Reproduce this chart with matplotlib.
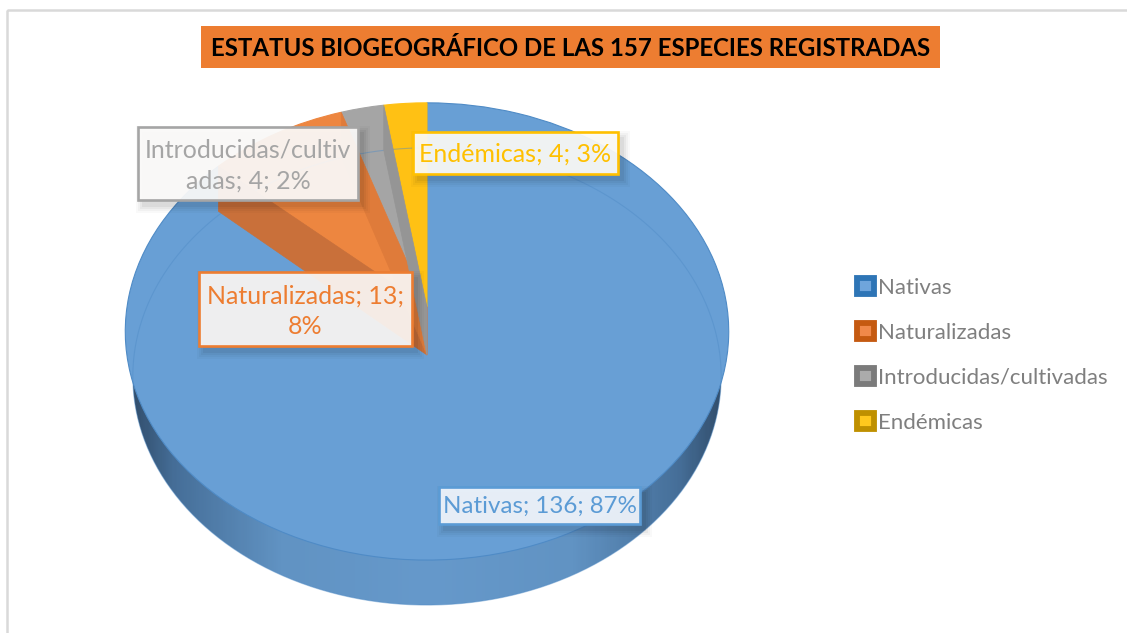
import matplotlib
matplotlib.use('Agg')
import matplotlib.pyplot as plt
import numpy as np
from matplotlib.colors import LinearSegmentedColormap
from matplotlib.patches import Patch, Rectangle
from matplotlib.path import Path
from matplotlib.transforms import Transform

plt.rcParams['font.family'] = ['Lato', 'DejaVu Sans']

# datos
title = 'ESTATUS BIOGEOGRÁFICO DE LAS 157 ESPECIES REGISTRADAS'
categories = ['Nativas', 'Naturalizadas', 'Introducidas/cultivadas', 'Endémicas']
species = [136, 13, 4, 4]
label_texts = ['Nativas; 136; 87%', 'Naturalizadas; 13;\n8%',
               'Introducidas/cultiv\nadas; 4; 2%', 'Endémicas; 4; 3%']

face_colors = ['#689FD5', '#ED8640', '#A5A5A5', '#FFC114']
edge_colors = ['#2E75B6', '#C55A11', '#7B7B7B', '#BF9000']
inner_colors = ['#6FA5DC', '#F0894A', '#ABABAB', '#FFC81E']
label_colors = ['#5B9BD5', '#ED7D31', '#A5A5A5', '#FFC000']
wall_colors = ['#C9703A', '#DF7B3A', '#959595']

# geometria del pastel en pixeles
CX, CY = 427, 307
A, B, K = 300, 226, 0.107
DEPTH = 45


def tilt(xy):
    xy = np.asarray(xy, dtype=float)
    w = 1 + K * xy[..., 1]
    return np.stack([CX + A * xy[..., 0] / w, CY - B * xy[..., 1] / w], axis=-1)


class Tilt(Transform):
    input_dims = 2
    output_dims = 2

    def transform_non_affine(self, values):
        return tilt(values)


def draw_box(ax, box, text, color, fill, size=18, dy=0):
    x0, y0, x1, y1 = box
    for grow, alpha in [(7, 0.025), (5, 0.03), (3, 0.04), (1, 0.05)]:
        ax.add_patch(Rectangle((x0 + 5 - grow, y0 + 6 - grow), x1 - x0 + 2 * grow, y1 - y0 + 2 * grow,
                               fc='black', ec='none', alpha=alpha, zorder=6))
    ax.add_patch(Rectangle((x0, y0), x1 - x0, y1 - y0, fc=fill, ec='none', alpha=0.93, zorder=7))
    ax.add_patch(Rectangle((x0, y0), x1 - x0, y1 - y0, fc='none', ec=color, lw=1.9, zorder=8))
    ax.text((x0 + x1) / 2, (y0 + y1) / 2 + dy, text, color=color, fontsize=size, ha='center', va='center',
            linespacing=1.4, zorder=9)


def main():
    fig = plt.figure(figsize=(11.27, 6.33), dpi=100)
    ax = fig.add_axes([0, 0, 1, 1])

    # borde del grafico
    ax.add_patch(Rectangle((7, 10), 1200, 700, fc='none', ec='#D9D9D9', lw=1.8, zorder=1))

    # pared exterior con sombreado horizontal
    cmap = LinearSegmentedColormap.from_list('rim', [(0, '#33506F'), (0.07, '#466F99'), (0.25, '#6193C3'),
                                                     (0.5, '#6699CB'), (0.75, '#6193C3'),
                                                     (0.93, '#466F99'), (1, '#33506F')])
    grad = np.linspace(0, 1, 300).reshape(1, -1)
    im = ax.imshow(grad, extent=(133, 721, 610, 300), aspect='auto', cmap=cmap, zorder=2)
    theta = np.linspace(0, 2 * np.pi, 400)
    rim = tilt(np.column_stack([np.cos(theta), np.sin(theta)])) + [0, DEPTH]
    rim[:, 0] = CX + (rim[:, 0] - CX) * 0.975
    im.set_clip_path(Path(rim), transform=ax.transData)

    # cara superior
    wedges, _ = ax.pie(species, startangle=90, counterclock=False, colors=face_colors,
                       wedgeprops={'linewidth': 0.8, 'edgecolor': '#4F8BC6'})
    for wedge, color in zip(wedges, face_colors):
        wedge.set_transform(Tilt() + ax.transData)
        wedge.set_clip_on(False)
        wedge.set_zorder(3)
        if color != face_colors[0]:
            wedge.set_edgecolor(color)

    # base vista a traves de la cara
    ax.plot(rim[:, 0], rim[:, 1], color='#4F8BC6', lw=0.8, alpha=0.45, zorder=3.5)

    # paredes interiores entre las porciones
    bounds = 90 - 360 * np.cumsum(species[:-1]) / np.sum(species)
    for ang, color in zip(bounds, wall_colors):
        outer = tilt([np.cos(np.radians(ang)), np.sin(np.radians(ang))])
        apex = tilt([0.0, 0.0])
        poly = np.array([outer, apex, apex + [0, DEPTH + 3], outer + [0, DEPTH]])
        ax.fill(poly[:, 0], poly[:, 1], fc=color, ec=color, lw=0.5, zorder=4)

    # titulo
    ax.add_patch(Rectangle((201, 26), 739, 42, fc='#ED7D31', ec='none', zorder=5))
    ax.text(571, 48, title, color='black', fontsize=17.3, fontweight='bold', ha='center', va='center', zorder=6)

    # etiquetas
    draw_box(ax, (439, 487, 640, 524), label_texts[0], label_colors[0], '#F2F6FC', size=17.4, dy=1)
    draw_box(ax, (199, 272, 412, 346), label_texts[1], label_colors[1], '#FBF7F4', dy=2)
    draw_box(ax, (138, 127, 358, 200), label_texts[2], label_colors[2], '#FCFBFA', dy=2)
    draw_box(ax, (413, 132, 618, 174), label_texts[3], label_colors[3], '#FCFBF7', dy=1)

    # leyenda
    handles = [Patch(fc=fc, ec=ec, lw=4.2, label=name)
               for fc, ec, name in zip(inner_colors, edge_colors, categories)]
    leg = ax.legend(handles=handles, loc='upper left', bbox_to_anchor=(857 / 1127, 1 - 278 / 633),
                    frameon=False, fontsize=16, handlelength=0.75, handleheight=0.75,
                    handletextpad=0.2, labelspacing=1.125, borderpad=0, borderaxespad=0)
    for txt in leg.get_texts():
        txt.set_color('#7F7F7F')

    ax.set_xlim(0, 1127)
    ax.set_ylim(633, 0)
    ax.set_aspect('auto')
    ax.axis('off')
    fig.savefig('out.png', dpi=100)


if __name__ == '__main__':
    main()
